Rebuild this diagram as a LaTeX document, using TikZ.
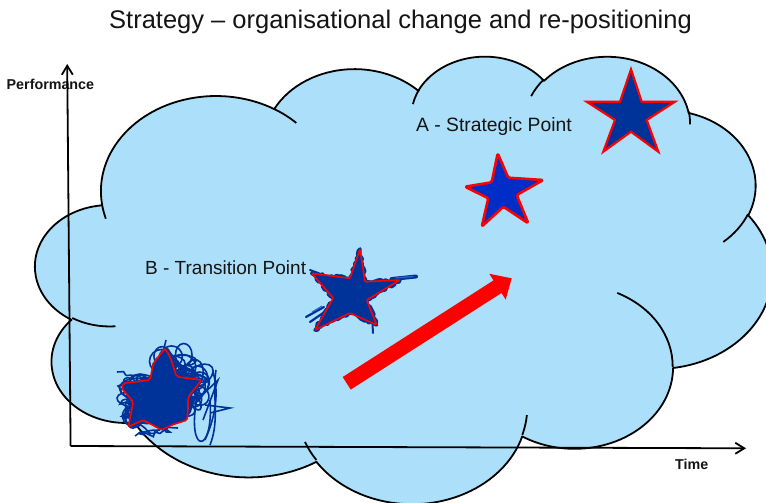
\documentclass[tikz,border=0pt]{standalone}
\usepackage{fontspec}
\setmainfont{Liberation Sans}
\usetikzlibrary{arrows.meta,decorations.pathmorphing}
\definecolor{cloudblue}{RGB}{172,224,250}
\definecolor{navy}{RGB}{0,51,153}
\definecolor{midblue}{RGB}{0,45,200}
\definecolor{streakblue}{RGB}{40,100,210}
\definecolor{redline}{RGB}{255,0,0}
\definecolor{txt}{RGB}{20,20,20}
\newcommand\cloudprep[5]{%
  \pgfmathsetmacro\cpS{atan2((#2)*sin(#4),(#3)*cos(#4))}%
  \pgfmathsetmacro\cpE{atan2((#2)*sin((#4)+(#5)),(#3)*cos((#4)+(#5)))}%
  \pgfmathsetmacro\cpD{mod(\cpE-\cpS+720,360)}%
  \expandafter\xdef\csname cS#1\endcsname{\cpS}%
  \expandafter\xdef\csname cD#1\endcsname{\cpD}%
}
\tikzset{
  cloudline/.style={draw=black, line width=1.8pt},
  axisline/.style={draw=black, line width=1.8pt, -{Straight Barb[length=9pt,width=11pt,line width=1.8pt]}},
  scrib/.style={draw=navy, line width=1.6pt},
  lbl/.style={inner sep=0pt, text=txt},
}
\begin{document}
\begin{tikzpicture}[x=1pt, y=1pt, yscale=-1]
\useasboundingbox (0,0) rectangle (766,503);
\clip (0,0) rectangle (766,503);
\fill[white] (0,0) rectangle (766,503);
% cloud geometry
\cloudprep{a}{675.3}{919.0}{-190.4875}{123.7805}
\cloudprep{b}{533.3}{726.7}{-144.1024}{89.9452}
\cloudprep{c}{436.5}{594.5}{-145.8079}{99.7230}
\cloudprep{d}{485.7}{659.5}{-130.9861}{117.2417}
\cloudprep{e}{533.3}{727.3}{-78.7089}{109.0269}
\cloudprep{f}{677.5}{922.0}{-46.2673}{130.2690}
\cloudprep{g}{578.5}{786.7}{0.6250}{114.0333}
\cloudprep{h}{675.2}{921.5}{22.4516}{115.1726}
\cloudprep{i}{772.0}{1054.3}{66.2426}{75.7110}
\cloudprep{j}{436.0}{591.8}{-274.9421}{146.7356}
\cloudprep{k}{434.5}{594.5}{-246.8285}{152.5189}
\cloudprep{ta}{434.5}{594.5}{86.7420}{26.4295}
\cloudprep{tb}{436.0}{591.8}{73.6105}{11.4475}
\cloudprep{tc}{675.2}{921.5}{137.6242}{14.0811}
\cloudprep{td}{675.2}{921.5}{6.4533}{15.9984}
\cloudprep{te}{578.5}{786.7}{-70.2924}{70.9174}
\cloudprep{tf}{533.3}{727.3}{30.3180}{27.7515}
\cloudprep{tg}{485.7}{659.5}{-13.7443}{14.8589}
\cloudprep{th}{485.7}{659.5}{-149.1815}{18.1954}
\cloudprep{ti}{436.5}{594.5}{-163.4943}{17.6910}
\cloudprep{tj}{675.3}{919.0}{-66.7070}{12.3194}
\cloudprep{tk}{675.3}{919.0}{157.6544}{11.8582}
\begin{scope}[shift={(35.5,55.2)}, xscale=0.17046, yscale=0.10356]
  \path[fill=cloudblue, cloudline, line join=round] (390,1437)
    arc[start angle=\cSa, delta angle=\cDa, x radius=675.3pt, y radius=919.0pt]
    arc[start angle=\cSb, delta angle=\cDb, x radius=533.3pt, y radius=726.7pt]
    arc[start angle=\cSc, delta angle=\cDc, x radius=436.5pt, y radius=594.5pt]
    arc[start angle=\cSd, delta angle=\cDd, x radius=485.7pt, y radius=659.5pt]
    arc[start angle=\cSe, delta angle=\cDe, x radius=533.3pt, y radius=727.3pt]
    arc[start angle=\cSf, delta angle=\cDf, x radius=677.5pt, y radius=922.0pt]
    arc[start angle=\cSg, delta angle=\cDg, x radius=578.5pt, y radius=786.7pt]
    arc[start angle=\cSh, delta angle=\cDh, x radius=675.2pt, y radius=921.5pt]
    arc[start angle=\cSi, delta angle=\cDi, x radius=772.0pt, y radius=1054.3pt]
    arc[start angle=\cSj, delta angle=\cDj, x radius=436.0pt, y radius=591.8pt]
    arc[start angle=\cSk, delta angle=\cDk, x radius=434.5pt, y radius=594.5pt]
    -- cycle;
  \draw[cloudline] (469.3,2617.7) arc[start angle=\cSta, delta angle=\cDta, x radius=434.5pt, y radius=594.5pt];
  \draw[cloudline] (692.8,3489.9) arc[start angle=\cStb, delta angle=\cDtb, x radius=436.0pt, y radius=591.8pt];
  \draw[cloudline] (1647.8,3909.0) arc[start angle=\cStc, delta angle=\cDtc, x radius=675.2pt, y radius=921.5pt];
  \draw[cloudline] (2882.7,3475.1) arc[start angle=\cStd, delta angle=\cDtd, x radius=675.2pt, y radius=921.5pt];
  \draw[cloudline] (3412.9,2295.4) arc[start angle=\cSte, delta angle=\cDte, x radius=578.5pt, y radius=786.7pt];
  \draw[cloudline] (4179.8,1535.4) arc[start angle=\cStf, delta angle=\cDtf, x radius=533.3pt, y radius=727.3pt];
  \draw[cloudline] (3832.4,542.6) arc[start angle=\cStg, delta angle=\cDtg, x radius=485.7pt, y radius=659.5pt];
  \draw[cloudline] (2907.8,395.2) arc[start angle=\cSth, delta angle=\cDth, x radius=485.7pt, y radius=659.5pt];
  \draw[cloudline] (2214.1,472.0) arc[start angle=\cSti, delta angle=\cDti, x radius=436.5pt, y radius=594.5pt];
  \draw[cloudline] (1400.0,519.2) arc[start angle=\cStj, delta angle=\cDtj, x radius=675.3pt, y radius=919.0pt];
  \draw[cloudline] (412.7,1578.9) arc[start angle=\cStk, delta angle=\cDtk, x radius=675.3pt, y radius=919.0pt];
\end{scope}

% title and labels
\node[lbl, anchor=base, font=\fontsize{25.5}{30}\selectfont] (title) at (400.5,28.5) {Strategy – organisational change and re-positioning};
\node[lbl, anchor=base west, font=\fontsize{14.3}{17}\selectfont\bfseries] (perf) at (6.5,89.5) {Performance};
\node[lbl, anchor=base west, font=\fontsize{14.3}{17}\selectfont\bfseries] (time) at (675,469.3) {Time};
\node[lbl, anchor=base west, font=\fontsize{19.3}{23}\selectfont] (lblA) at (416,131.7) {A - Strategic Point};
\node[lbl, anchor=base west, font=\fontsize{19}{23}\selectfont] (lblB) at (145,274.3) {B - Transition Point};

% axes
\coordinate (O) at (70.6,446);
\coordinate (ytop) at (67.2,64);
\coordinate (xend) at (746,448.3);
\draw[axisline] (O) -- (ytop);
\draw[axisline] (O) -- (xend);

% star A (regular)
\draw[redline, fill=navy, line width=2.2pt, line join=miter]
  (631,69.3) -- (641.7,101.7) -- (675,101.7) -- (646.7,120) -- (658.3,151.7)
  -- (631,131.7) -- (603.3,151.7) -- (615,120) -- (586.7,101.7) -- (620,101.7) -- cycle;

% star 2 (hand drawn)
\draw[redline, fill=midblue, line width=2.6pt, line join=round, rounded corners=1.5pt]
  (497.7,153.3) -- (508.3,177.7) -- (543.3,180) -- (516.7,195) -- (528.3,223.3)
  -- (503.3,206.7) -- (481.7,226.7) -- (488.3,198.3) -- (465,186.7) -- (491.7,182.3) -- cycle;

% star 3 (transition, scribbled)
\draw[navy, fill=navy, line width=3.5pt, line join=round, decorate,
      decoration={random steps, segment length=2.5pt, amplitude=1.4pt}]
  (360,249) -- (365,281.7) -- (400,280) -- (366.7,300) -- (376.7,325)
  -- (350,313) -- (315,330) -- (333.3,298) -- (311.7,273.3) -- (350,278.3) -- cycle;
\draw[navy, line width=4pt, line cap=round] (392,279) -- (416,276.5);
\draw[streakblue, line width=1.2pt, line cap=round] (396,278) -- (413,276.5);
\draw[navy, line width=2.2pt, line cap=round] (306,317) -- (324,307);
\draw[navy, line width=2.2pt, line cap=round] (310,322) -- (326,311);
\draw[navy, line width=2pt, line cap=round] (372,316) -- (373,333);
\draw[navy, line width=2pt, line cap=round] (310,270) -- (334,279);
\draw[streakblue, line width=1pt] (312,312) -- (322,306);
\draw[redline, line width=1.6pt, line join=round, rounded corners=1pt]
  (360,249) -- (365,281.7) -- (400,280) -- (366.7,300) -- (376.7,325)
  -- (350,313) -- (315,330) -- (333.3,298) -- (311.7,273.3) -- (350,278.3) -- cycle;

% star 4 (scribble ball)
\fill[navy] (165,348.3) -- (153.3,363.3) -- (150,380) -- (123.3,383.3) -- (121.7,388.3)
  -- (133.3,401.7) -- (128.3,426.7) -- (143.3,420) -- (161.7,430) -- (171.7,425)
  -- (187.3,420) -- (188.3,396.7) -- (201.7,380) -- (176.7,376.7) -- (170,356.7) -- cycle;
\pgfmathsetseed{4321}
\foreach \i in {1,...,45}{
  \pgfmathsetmacro\cx{186+14*rand}
  \pgfmathsetmacro\cy{392+18*rand}
  \pgfmathsetmacro\rx{5+11*rnd}
  \pgfmathsetmacro\ry{5+11*rnd}
  \pgfmathsetmacro\ang{180*rnd}
  \draw[scrib, rotate around={\ang:(\cx,\cy)}] (\cx,\cy) ellipse[x radius=\rx, y radius=\ry];
}
\foreach \i in {1,...,30}{
  \pgfmathsetmacro\cx{140+10*rand}
  \pgfmathsetmacro\cy{400+18*rand}
  \pgfmathsetmacro\rx{5+12*rnd}
  \pgfmathsetmacro\ry{4+7*rnd}
  \pgfmathsetmacro\ang{40*rand}
  \draw[scrib, rotate around={\ang:(\cx,\cy)}] (\cx,\cy) ellipse[x radius=\rx, y radius=\ry];
}
\foreach \i in {1,...,14}{
  \pgfmathsetmacro\cx{170+14*rand}
  \pgfmathsetmacro\cy{362+8*rand}
  \pgfmathsetmacro\rx{5+9*rnd}
  \pgfmathsetmacro\ry{5+8*rnd}
  \draw[scrib] (\cx,\cy) ellipse[x radius=\rx, y radius=\ry];
}
\draw[scrib, decorate, decoration={random steps, segment length=4pt, amplitude=3pt}]
  (117,372) -- (150,378) -- (118,386) -- (148,392) -- (120,404) -- (146,408) -- (122,416) -- (150,418);
\draw[scrib, decorate, decoration={random steps, segment length=4pt, amplitude=3pt}]
  (130,425) -- (170,432) -- (135,436) -- (178,428);
\draw[scrib] (197,398) .. controls (186,455) and (214,456) .. (210,400);
\draw[scrib] (213,372) .. controls (220,395) and (214,420) .. (205,440);
\draw[scrib] (216,370) .. controls (212,395) and (220,420) .. (210,445);
\draw[scrib] (205,405) -- (230,408) -- (210,413);
\draw[scrib] (166,340) -- (160,365);
\draw[scrib] (195,402) -- (218,380) -- (203,420);
\draw[redline, line width=1.6pt, line join=round, rounded corners=2pt]
  (165,348.3) -- (153.3,363.3) -- (150,380) -- (123.3,383.3) -- (121.7,388.3)
  -- (133.3,401.7) -- (128.3,426.7) -- (143.3,420) -- (161.7,430) -- (171.7,425)
  -- (187.3,420) -- (188.3,396.7) -- (201.7,380) -- (176.7,376.7) -- (170,356.7) -- cycle;

% red arrow
\coordinate (arT1) at (342.7,377.0);
\coordinate (arB1) at (493.5,280.4);
\coordinate (arW1) at (489.3,273.8);
\coordinate (arTip) at (511.7,278.3);
\coordinate (arW2) at (505.7,299.6);
\coordinate (arB2) at (501.5,293.0);
\coordinate (arT2) at (350.7,389.6);
\fill[redline] (arT1) -- (arB1) -- (arW1) -- (arTip) -- (arW2) -- (arB2) -- (arT2) -- cycle;
\end{tikzpicture}
\end{document}
